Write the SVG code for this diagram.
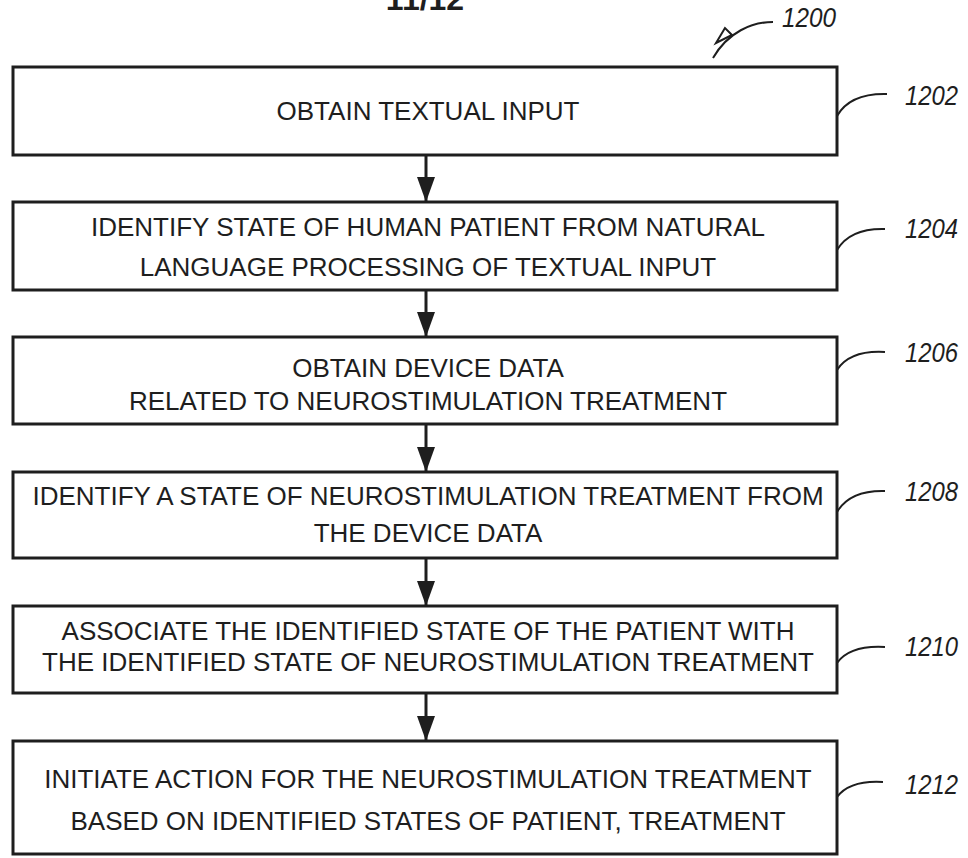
<svg xmlns="http://www.w3.org/2000/svg" width="968" height="858" viewBox="0 0 968 858">
<style>
.box{fill:#fff;stroke:#1e1e1e;stroke-width:3}
.t{font-family:"Liberation Sans",Arial,sans-serif;font-size:26px;fill:#1e1e1e;text-anchor:middle}
.ref{font-family:"Liberation Sans",Arial,sans-serif;font-size:27px;font-style:italic;fill:#1e1e1e}
.lead{fill:none;stroke:#1e1e1e;stroke-width:2}
.conn{stroke:#1e1e1e;stroke-width:3;fill:none}
</style>
<defs>
<marker id="ah" viewBox="0 0 25 18" refX="25" refY="9" markerWidth="25" markerHeight="18" markerUnits="userSpaceOnUse" orient="auto">
<path d="M0,0 L25,9 L0,18 Z" fill="#1e1e1e"/>
</marker>
</defs>
<rect width="968" height="858" fill="#fff"/>
<text x="425" y="10" font-family="Liberation Sans, Arial, sans-serif" font-size="32" font-weight="bold" text-anchor="middle" fill="#1e1e1e">11/12</text>
<g id="fig-ref">
<path class="lead" d="M773 22 C752 22 728 32 713 58"/>
<path class="lead" d="M725 28 L716 43 L732 35 Z"/>
<text class="ref" x="782" y="27" textLength="54" lengthAdjust="spacingAndGlyphs">1200</text>
</g>
<g id="n1202">
<rect class="box" x="13" y="67" width="824" height="88"/>
<text class="t" x="428" y="120">OBTAIN TEXTUAL INPUT</text>
<path class="lead" d="M837 116 Q850 93 887 94"/>
<text class="ref" x="905" y="105" textLength="53" lengthAdjust="spacingAndGlyphs">1202</text>
</g>
<g id="n1204">
<rect class="box" x="13" y="202" width="824" height="88"/>
<text class="t" x="428" y="236">IDENTIFY STATE OF HUMAN PATIENT FROM NATURAL</text>
<text class="t" x="428" y="276">LANGUAGE PROCESSING OF TEXTUAL INPUT</text>
<path class="lead" d="M837 250 Q850 228 885 229"/>
<text class="ref" x="905" y="238" textLength="53" lengthAdjust="spacingAndGlyphs">1204</text>
</g>
<g id="n1206">
<rect class="box" x="13" y="337" width="824" height="87"/>
<text class="t" x="428" y="377">OBTAIN DEVICE DATA</text>
<text class="t" x="428" y="410">RELATED TO NEUROSTIMULATION TREATMENT</text>
<path class="lead" d="M837 370 Q850 350 885 352"/>
<text class="ref" x="905" y="362" textLength="53" lengthAdjust="spacingAndGlyphs">1206</text>
</g>
<g id="n1208">
<rect class="box" x="13" y="472" width="824" height="86"/>
<text class="t" x="428" y="505">IDENTIFY A STATE OF NEUROSTIMULATION TREATMENT FROM</text>
<text class="t" x="428" y="542">THE DEVICE DATA</text>
<path class="lead" d="M837 512 Q850 490 885 491"/>
<text class="ref" x="905" y="501" textLength="53" lengthAdjust="spacingAndGlyphs">1208</text>
</g>
<g id="n1210">
<rect class="box" x="13" y="606" width="824" height="87"/>
<text class="t" x="428" y="640">ASSOCIATE THE IDENTIFIED STATE OF THE PATIENT WITH</text>
<text class="t" x="428" y="671">THE IDENTIFIED STATE OF NEUROSTIMULATION TREATMENT</text>
<path class="lead" d="M837 663 Q850 645 885 647"/>
<text class="ref" x="905" y="656" textLength="53" lengthAdjust="spacingAndGlyphs">1210</text>
</g>
<g id="n1212">
<rect class="box" x="13" y="741" width="824" height="113"/>
<text class="t" x="428" y="788">INITIATE ACTION FOR THE NEUROSTIMULATION TREATMENT</text>
<text class="t" x="428" y="830">BASED ON IDENTIFIED STATES OF PATIENT, TREATMENT</text>
<path class="lead" d="M837 797 Q850 780 883 782"/>
<text class="ref" x="905" y="794" textLength="53" lengthAdjust="spacingAndGlyphs">1212</text>
</g>
<g id="connectors">
<line class="conn" x1="426" y1="155" x2="426" y2="202" marker-end="url(#ah)"/>
<line class="conn" x1="426" y1="290" x2="426" y2="337" marker-end="url(#ah)"/>
<line class="conn" x1="426" y1="424" x2="426" y2="472" marker-end="url(#ah)"/>
<line class="conn" x1="426" y1="558" x2="426" y2="606" marker-end="url(#ah)"/>
<line class="conn" x1="426" y1="693" x2="426" y2="741" marker-end="url(#ah)"/>
</g>
</svg>
